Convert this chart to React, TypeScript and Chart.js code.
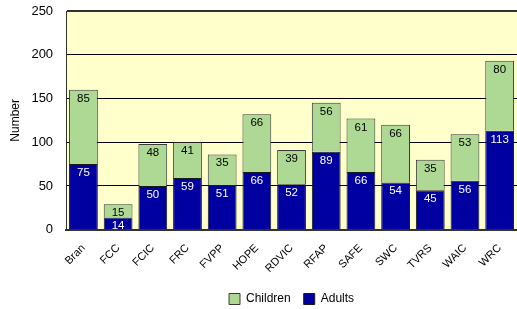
import React, { useEffect, useRef } from "react";
import { Chart, registerables } from "chart.js";

Chart.register(...registerables);

const categories = ["Bran", "FCC", "FCIC", "FRC", "FVPP", "HOPE", "RDVIC", "RFAP", "SAFE", "SWC", "TVRS", "WAIC", "WRC"];
const adults = [75, 14, 50, 59, 51, 66, 52, 89, 66, 54, 45, 56, 113];
const children = [85, 15, 48, 41, 35, 66, 39, 56, 61, 66, 35, 53, 80];

const FONT = "Arial, 'Liberation Sans', sans-serif";

const plotBg = {
  id: "plotBg",
  beforeDraw(chart: any) {
    const { ctx, chartArea: a } = chart;
    ctx.save();
    ctx.fillStyle = "#FFFFCC";
    ctx.fillRect(a.left, a.top, a.right - a.left, a.bottom - a.top);
    ctx.restore();
  },
};

const valueLabels = {
  id: "valueLabels",
  afterDatasetsDraw(chart: any) {
    const { ctx } = chart;
    ctx.save();
    ctx.font = "11.5px " + FONT;
    ctx.textAlign = "center";
    ctx.textBaseline = "top";
    chart.data.datasets.forEach((ds: any, di: number) => {
      const meta = chart.getDatasetMeta(di);
      meta.data.forEach((bar: any, i: number) => {
        ctx.fillStyle = di === 0 ? "#FFFFFF" : "#000000";
        ctx.fillText(String(ds.data[i]), bar.x, bar.y + 3);
      });
    });
    ctx.restore();
  },
};

export default function App() {
  const ref = useRef<HTMLCanvasElement>(null);
  useEffect(() => {
    document.body.style.margin = "0";
    const chart = new Chart(ref.current!, {
      type: "bar",
      data: {
        labels: categories,
        datasets: [
          {
            label: "Adults",
            data: adults,
            backgroundColor: "#0000A0",
            borderColor: "#1a1a1a",
            borderWidth: 1,
            categoryPercentage: 1,
            barPercentage: 0.83,
          },
          {
            label: "Children",
            data: children,
            backgroundColor: "#AED995",
            borderColor: "#3a3a3a",
            borderWidth: 1,
            categoryPercentage: 1,
            barPercentage: 0.83,
          },
        ],
      },
      options: {
        animation: false,
        responsive: false,
        maintainAspectRatio: false,
        layout: { padding: { left: 8, right: 0, top: 11, bottom: -6 } },
        plugins: {
          legend: {
            position: "bottom",
            fullSize: false,
            reverse: true,
            labels: {
              boxWidth: 11,
              boxHeight: 11,
              padding: 13,
              color: "#000",
              font: { family: FONT, size: 12 },
            },
          },
          tooltip: { enabled: false },
        },
        scales: {
          x: {
            stacked: true,
            grid: { display: true, color: "rgba(0,0,0,0)", drawTicks: true, tickLength: 12, tickColor: "rgba(0,0,0,0)" },
            border: { color: "#333", width: 2 },
            ticks: {
              color: "#000",
              maxRotation: 45,
              minRotation: 45,
              padding: 0,
              font: { family: FONT, size: 11 },
            },
            title: {
              display: true,
              text: " ",
              padding: 0,
              font: { family: FONT, size: 4 },
            },
          },
          y: {
            stacked: true,
            min: 0,
            max: 250,
            grid: {
              color: (c: any) => (c.tick && c.tick.value === 250 ? "#333" : "#000"),
              lineWidth: (c: any) => (c.tick && c.tick.value === 250 ? 2 : 1),
              drawTicks: true,
              tickLength: 13,
              tickColor: "rgba(0,0,0,0)",
            },
            border: { color: "#333", width: 1 },
            ticks: {
              stepSize: 50,
              padding: 0,
              color: "#000",
              font: { family: FONT, size: 13 },
            },
            title: {
              display: true,
              text: "Number",
              color: "#000",
              padding: { top: 0, bottom: 9 },
              font: { family: FONT, size: 12 },
            },
          },
        },
      },
      plugins: [plotBg, valueLabels],
    });
    return () => chart.destroy();
  }, []);
  return (
    <div style={{ width: 517, height: 309 }}>
      <canvas ref={ref} width={517} height={309} style={{ display: "block" }} />
    </div>
  );
}
